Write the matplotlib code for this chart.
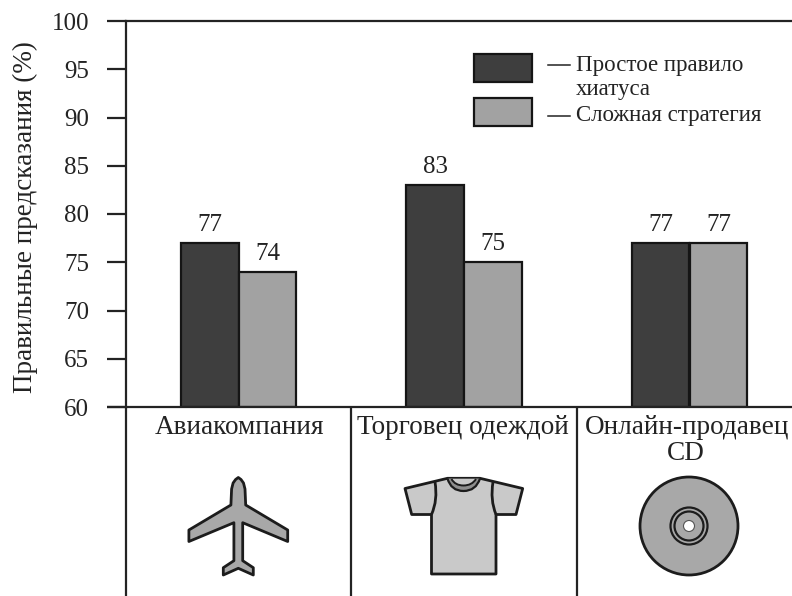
import matplotlib
matplotlib.use("Agg")
import matplotlib.pyplot as plt
from matplotlib.patches import Circle, PathPatch, Rectangle
from matplotlib.path import Path

plt.rcParams["font.family"] = ["Liberation Serif", "DejaVu Serif"]

# Data
categories = ["Авиакомпания", "Торговец одеждой", "Онлайн-продавец\nCD"]
simple_rule = [77, 83, 77]
complex_strategy = [74, 75, 77]
series_names = ["Простое правило\nхиатуса", "Сложная стратегия"]
y_ticks = [60, 65, 70, 75, 80, 85, 90, 95, 100]
y_label = "Правильные предсказания (%)"

# Styles
DARK = "#3e3e3e"
LIGHT = "#a2a2a2"
INK = "#232323"
ICON_GREY = "#a8a8a8"
SHIRT_GREY = "#c9c9c9"
COLLAR_GREY = "#8f8f8f"
LW = 1.6
ICON_LW = 2.0
BAR_W = 0.257

W, H = 792, 596
fig = plt.figure(figsize=(W / 100, H / 100), dpi=100, facecolor="white")

# Bar chart axes
ax = fig.add_axes([126 / W, 1 - 407 / H, (W - 126) / W, (407 - 21) / H])
ax.set_xlim((126 - 238.5) / 225.5, (W - 238.5) / 225.5)
ax.set_ylim(60, 100)
ax.patch.set_alpha(0)
x = list(range(len(categories)))
for i in x:
    for off, v, col in ((-BAR_W / 2, simple_rule[i], DARK), (BAR_W / 2, complex_strategy[i], LIGHT)):
        ax.bar(i + off, v - 60, BAR_W, bottom=60, color=col, edgecolor="#151515", linewidth=LW, zorder=2)
        ax.annotate(str(v), (i + off, v), xytext=(0, 5), textcoords="offset points",
                    ha="center", va="bottom", fontsize=18, color=INK)
for s in ("right", "bottom"):
    ax.spines[s].set_visible(False)
for s in ("top", "left"):
    ax.spines[s].set_linewidth(LW)
    ax.spines[s].set_color(INK)
ax.set_xticks([])
ax.set_yticks(y_ticks)
ax.tick_params(axis="y", length=13.5, width=LW, color=INK, labelcolor=INK, labelsize=18, pad=13)
fig.text(25 / W, 1 - 217.5 / H, y_label, rotation=90, ha="center", va="center", fontsize=19.5, color=INK)

# Pixel-space overlay for panels, legend and pictograms
ov = fig.add_axes([0, 0, 1, 1])
ov.set_xlim(0, W)
ov.set_ylim(H, 0)
ov.axis("off")
ov.patch.set_alpha(0)

ov.plot([107, W], [407, 407], color=INK, lw=LW, solid_capstyle="butt")
for px in (125.5, 351, 577):
    ov.plot([px, px], [407, H], color=INK, lw=LW, solid_capstyle="butt")

ov.text(239, 427, categories[0], ha="center", va="center", fontsize=19.6, color=INK)
ov.text(463, 427, categories[1], ha="center", va="center", fontsize=19.6, color=INK)
ov.text(687, 427, categories[2].split("\n")[0], ha="center", va="center", fontsize=19.6, color=INK)
ov.text(686, 453, categories[2].split("\n")[1], ha="center", va="center", fontsize=19.6, color=INK)

# Legend
for top, col in ((53.5, DARK), (97.5, LIGHT)):
    ov.add_patch(Rectangle((474, top), 58, 28.5, fc=col, ec="#151515", lw=LW))
ov.plot([548, 570], [65, 65], color=INK, lw=1.1)
ov.plot([548, 570], [116, 116], color=INK, lw=1.1)
name1, name2 = series_names[0].split("\n")
ov.text(576, 65, name1, ha="left", va="center", fontsize=16.5, color=INK)
ov.text(576, 89, name2, ha="left", va="center", fontsize=16.5, color=INK)
ov.text(576, 115, series_names[1], ha="left", va="center", fontsize=16.5, color=INK)


def mirrored(half, cx):
    """Closed outline from a right-hand half, reflected about x = cx."""
    pts = half + [(2 * cx - px, py) for px, py in reversed(half[1:-1])]
    return pts + [pts[0]]


def outline(pts, fc):
    codes = [Path.MOVETO] + [Path.LINETO] * (len(pts) - 2) + [Path.CLOSEPOLY]
    ov.add_patch(PathPatch(Path(pts, codes), fc=fc, ec="#1c1c1c", lw=ICON_LW, joinstyle="round"))


def curve(pts, fc="none", lw=ICON_LW):
    codes = [Path.MOVETO] + [Path.CURVE3] * (len(pts) - 1)
    ov.add_patch(PathPatch(Path(pts, codes), fc=fc, ec="#1c1c1c", lw=lw))


# Aeroplane
plane_half = [(238.3, 477.5), (241, 479.5), (243.5, 483), (245, 489), (245.7, 505), (287.7, 530), (287.7, 541.5),
              (242.7, 522.7), (242.7, 560.7), (253.3, 567.7), (253.3, 575), (238.3, 568.3)]
outline(mirrored(plane_half, 238.3), ICON_GREY)

# T-shirt
shirt = [(431.5, 574), (496, 574), (496, 514.5), (516, 514.5), (522.7, 488.5), (480, 478.3),
         (447.5, 478.3), (405, 488.5), (411.7, 514.5), (431.5, 514.5), (431.5, 574)]
outline(shirt, SHIRT_GREY)
curve([(447.5, 478.5), (451, 491), (463.5, 491), (476, 491), (480, 478.5)], COLLAR_GREY, lw=1.6)
curve([(451.5, 479), (455, 485.5), (463.5, 485.5), (472, 485.5), (476, 479)], SHIRT_GREY, lw=1.4)
curve([(435, 482), (438, 500), (431.5, 514.5)])
curve([(493, 482), (490, 500), (496, 514.5)])

# Compact disc
cd = (689, 526)
ov.add_patch(Circle(cd, 49, fc=ICON_GREY, ec="#1c1c1c", lw=ICON_LW))
ov.add_patch(Circle(cd, 18.5, fc=ICON_GREY, ec="#1c1c1c", lw=1.6))
ov.add_patch(Circle(cd, 14.5, fc=ICON_GREY, ec="#1c1c1c", lw=1.6))
ov.add_patch(Circle(cd, 5.5, fc="white", ec="#555555", lw=0.8))

fig.savefig("out.png", dpi=100, facecolor="white")
